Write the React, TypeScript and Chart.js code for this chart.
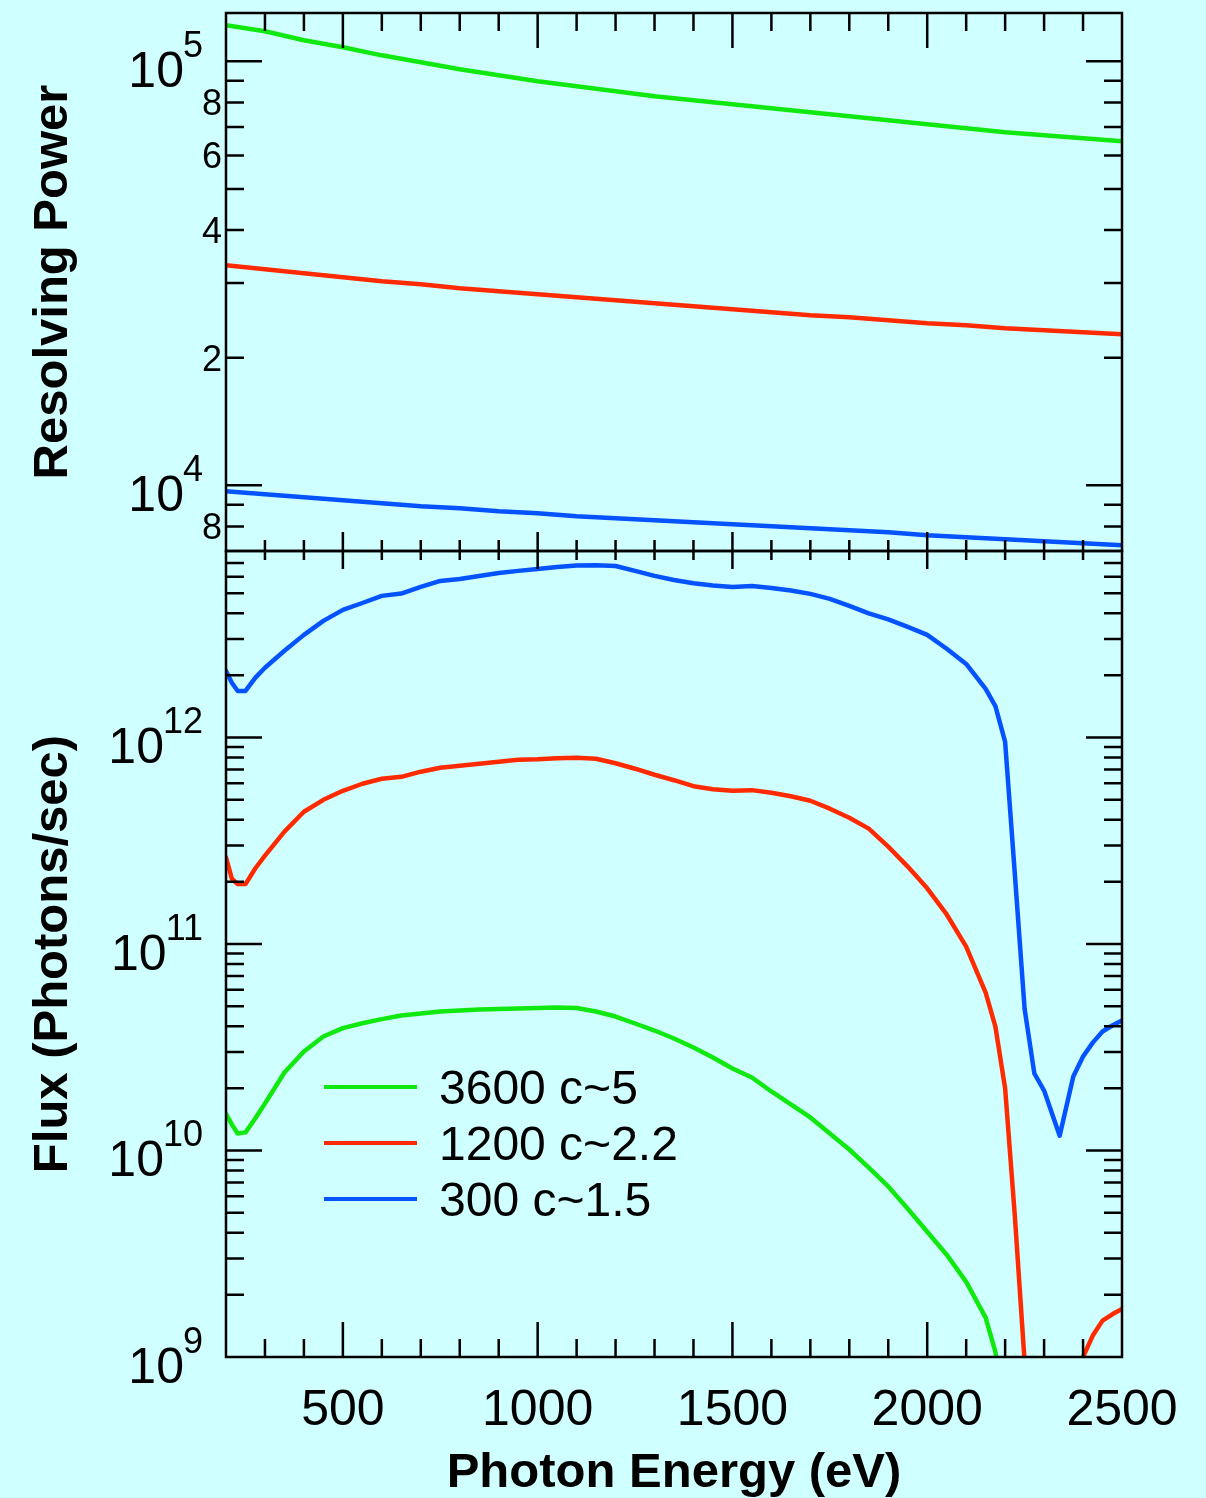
import React, { useEffect, useRef } from "react";
import { Chart, registerables } from "chart.js";

Chart.register(...registerables);

const PAGE_W = 1206;
const PAGE_H = 1498;
const FONT = '"Liberation Sans", Arial, Helvetica, sans-serif';
const BG = "#d0ffff";

// ---- Series metadata ----
const seriesLabels = ["3600 c~5", "1200 c~2.2", "300 c~1.5"];
const seriesColors = ["#10e810", "#ff2a00", "#0552ff"];

// ---- Resolving power vs photon energy ----
const resEnergy = [
  200, 300, 400, 500, 600, 700, 800, 900, 1000, 1100, 1200, 1300, 1400, 1500,
  1600, 1700, 1800, 1900, 2000, 2100, 2200, 2300, 2400, 2500,
];
const res3600 = [
  121600, 117700, 112100, 107900, 103300, 99460, 95750, 92680, 89700, 87300,
  84960, 82700, 80910, 79170, 77470, 75800, 74180, 72580, 71020, 69500, 68020,
  66920, 65840, 64770,
];
const res1200 = [
  33030, 32320, 31620, 30950, 30290, 29800, 29160, 28690, 28220, 27770, 27320,
  26880, 26440, 26010, 25590, 25180, 24910, 24500, 24110, 23850, 23460, 23210,
  22960, 22710,
];
const res300 = [
  9680, 9524, 9369, 9218, 9070, 8925, 8828, 8685, 8590, 8452, 8360, 8270, 8180,
  8091, 8004, 7918, 7832, 7748, 7623, 7541, 7458, 7378, 7299, 7220,
];

// ---- Flux vs photon energy ----
const fluxEnergy = [
  200, 215, 230, 250, 275, 300, 350, 400, 450, 500, 550, 600, 650, 700, 750,
  800, 850, 900, 950, 1000, 1050, 1100, 1150, 1200, 1250, 1300, 1350, 1400,
  1450, 1500, 1550, 1600, 1650, 1700, 1750, 1800, 1850, 1900, 1950, 2000, 2050,
  2100, 2150, 2175, 2200, 2225, 2250, 2275, 2300, 2340, 2375, 2400, 2425, 2450,
  2475, 2500,
];
const flux3600 = [
  1.507e10, 1.337e10, 1.21e10, 1.224e10, 1.429e10, 1.69e10, 2.387e10, 3.016e10,
  3.565e10, 3.915e10, 4.134e10, 4.326e10, 4.503e10, 4.604e10, 4.71e10,
  4.762e10, 4.815e10, 4.842e10, 4.869e10, 4.896e10, 4.924e10, 4.896e10,
  4.71e10, 4.454e10, 4.121e10, 3.811e10, 3.486e10, 3.153e10, 2.821e10,
  2.495e10, 2.257e10, 1.931e10, 1.671e10, 1.446e10, 1.21e10, 1.011e10, 8.27e9,
  6.7e9, 5.22e9, 4.04e9, 3.13e9, 2.31e9, 1.55e9, 1.06e9, 5e8,
  null, null, null, null, null, null, null, null, null, null, null,
];
const flux1200 = [
  2.63e11, 2.07e11, 1.95e11, 1.95e11, 2.32e11, 2.68e11, 3.5e11, 4.37e11,
  4.99e11, 5.52e11, 5.97e11, 6.31e11, 6.45e11, 6.83e11, 7.14e11, 7.3e11,
  7.46e11, 7.63e11, 7.8e11, 7.84e11, 7.93e11, 7.98e11, 7.89e11, 7.5e11,
  7.06e11, 6.6e11, 6.21e11, 5.81e11, 5.62e11, 5.52e11, 5.56e11, 5.4e11,
  5.19e11, 4.94e11, 4.52e11, 4.09e11, 3.62e11, 2.96e11, 2.37e11, 1.86e11,
  1.39e11, 9.71e10, 5.82e10, 3.98e10, 2.0e10, 4.8e9, 9.5e8,
  null, null, null, null, 1.0e9, 1.27e9, 1.5e9, 1.61e9, 1.71e9,
];
const flux300 = [
  2.1e12, 1.84e12, 1.68e12, 1.68e12, 1.945e12, 2.175e12, 2.63e12, 3.14e12,
  3.67e12, 4.15e12, 4.48e12, 4.85e12, 4.98e12, 5.36e12, 5.73e12, 5.86e12,
  6.06e12, 6.26e12, 6.41e12, 6.55e12, 6.7e12, 6.81e12, 6.82e12, 6.77e12,
  6.41e12, 6.06e12, 5.79e12, 5.58e12, 5.45e12, 5.36e12, 5.42e12, 5.3e12,
  5.15e12, 4.96e12, 4.69e12, 4.34e12, 3.99e12, 3.73e12, 3.43e12, 3.14e12,
  2.69e12, 2.27e12, 1.72e12, 1.42e12, 9.53e11, 2.17e11, 4.85e10, 2.36e10,
  1.95e10, 1.18e10, 2.28e10, 2.85e10, 3.33e10, 3.77e10, 4.03e10, 4.26e10,
];

// ---- Axis ranges and tick labels ----
const energyRange = [200, 2500];
const energyTickLabels = [500, 1000, 1500, 2000, 2500];
const resRange = [7000, 130000];
const resDecadeLabels = [1e4, 1e5];
const resMinorLabels = [8e3, 2e4, 4e4, 6e4, 8e4];
const fluxRange = [1e9, 8e12];
const fluxDecadeLabels = [1e9, 1e10, 1e11, 1e12];

const xAxisTitle = "Photon Energy (eV)";
const resAxisTitle = "Resolving Power";
const fluxAxisTitle = "Flux (Photons/sec)";

type TickSpan = [number, number]; // extent above / below the edge line
interface PanelStyle {
  topMinor: TickSpan;
  topMajor: TickSpan;
  bottomMinor: TickSpan;
  bottomMajor: TickSpan;
  decadeLabels: number[];
  minorLabels: number[];
  title: string;
  xLabels: boolean;
  legend: boolean;
}

const SUP_RIGHT = 203;

function drawPower(ctx: CanvasRenderingContext2D, value: number, py: number) {
  const exp = String(Math.round(Math.log10(value)));
  ctx.textAlign = "right";
  ctx.textBaseline = "alphabetic";
  ctx.font = `36px ${FONT}`;
  const w = ctx.measureText(exp).width;
  ctx.fillText(exp, SUP_RIGHT, py - 4);
  ctx.font = `50px ${FONT}`;
  ctx.fillText("10", SUP_RIGHT - w + 1, py + 26);
}

function panelPlugin(style: PanelStyle) {
  return {
    id: "panelFrame",
    afterDatasetsDraw(chart: any) {
      const { ctx, chartArea: a } = chart;
      const xs = chart.scales.x;
      const ys = chart.scales.y;
      ctx.save();
      ctx.strokeStyle = "#000";
      ctx.fillStyle = "#000";
      ctx.lineWidth = 2.5;
      ctx.lineCap = "butt";

      // energy ticks on top and bottom edges, every 100 eV
      ctx.beginPath();
      for (let e = energyRange[0] + 100; e < energyRange[1]; e += 100) {
        const px = xs.getPixelForValue(e);
        const major = e % 500 === 0;
        const t = major ? style.topMajor : style.topMinor;
        ctx.moveTo(px, a.top - t[0]);
        ctx.lineTo(px, a.top + t[1]);
        const b = major ? style.bottomMajor : style.bottomMinor;
        ctx.moveTo(px, a.bottom - b[0]);
        ctx.lineTo(px, a.bottom + b[1]);
      }

      // logarithmic ticks on left and right edges
      const lo = ys.min;
      const hi = ys.max;
      const d0 = Math.floor(Math.log10(lo));
      const d1 = Math.ceil(Math.log10(hi));
      for (let d = d0; d <= d1; d++) {
        for (let m = 1; m <= 9; m++) {
          const v = m * Math.pow(10, d);
          if (v <= lo * 1.0001 || v >= hi * 0.9999) continue;
          const py = ys.getPixelForValue(v);
          const len = m === 1 ? 36 : 18;
          ctx.moveTo(a.left, py);
          ctx.lineTo(a.left + len, py);
          ctx.moveTo(a.right, py);
          ctx.lineTo(a.right - len, py);
        }
      }
      ctx.stroke();
      ctx.strokeRect(a.left, a.top, a.right - a.left, a.bottom - a.top);

      // y tick labels
      for (const v of style.decadeLabels) drawPower(ctx, v, ys.getPixelForValue(v));
      ctx.font = `36px ${FONT}`;
      ctx.textAlign = "right";
      ctx.textBaseline = "alphabetic";
      for (const v of style.minorLabels) {
        const mant = Math.round(v / Math.pow(10, Math.floor(Math.log10(v))));
        ctx.fillText(String(mant), 222, ys.getPixelForValue(v) + 13);
      }

      // y axis title
      ctx.save();
      ctx.translate(67, (a.top + a.bottom) / 2);
      ctx.rotate(-Math.PI / 2);
      ctx.font = `bold 49px ${FONT}`;
      ctx.textAlign = "center";
      ctx.fillText(style.title, 0, 0);
      ctx.restore();

      if (style.xLabels) {
        ctx.font = `50px ${FONT}`;
        ctx.textAlign = "center";
        for (const e of energyTickLabels) {
          ctx.fillText(String(e), xs.getPixelForValue(e), 1425);
        }
        ctx.font = `bold 49px ${FONT}`;
        ctx.fillText(xAxisTitle, (a.left + a.right) / 2, 1487);
      }

      if (style.legend) {
        const rows = [1087, 1143, 1199];
        chart.data.datasets.forEach((ds: any, i: number) => {
          const y = rows[i];
          ctx.strokeStyle = ds.borderColor;
          ctx.lineWidth = 4;
          ctx.beginPath();
          ctx.moveTo(324, y);
          ctx.lineTo(417, y);
          ctx.stroke();
          ctx.font = `48px ${FONT}`;
          ctx.textAlign = "left";
          ctx.fillStyle = "#000";
          ctx.fillText(ds.label, 439, y + 17);
        });
      }
      ctx.restore();
    },
  };
}

function makeDatasets(xs: number[], ys: (number | null)[][]) {
  return ys.map((vals, i) => ({
    label: seriesLabels[i],
    data: xs.map((x, j) => ({ x, y: vals[j] })),
    borderColor: seriesColors[i],
    backgroundColor: seriesColors[i],
    borderWidth: 4.5,
    pointRadius: 0,
    tension: 0,
    spanGaps: false,
    borderJoinStyle: "round" as const,
    borderCapStyle: "round" as const,
    fill: false,
  }));
}

function baseOptions(yRange: number[], padding: any): any {
  return {
    responsive: false,
    maintainAspectRatio: false,
    animation: false,
    devicePixelRatio: 1,
    events: [],
    layout: { padding },
    plugins: {
      legend: { display: false },
      tooltip: { enabled: false },
      title: { display: false },
    },
    scales: {
      x: { type: "linear", min: energyRange[0], max: energyRange[1], display: false },
      y: { type: "logarithmic", min: yRange[0], max: yRange[1], display: false },
    },
  };
}

export default function App() {
  const topRef = useRef<HTMLCanvasElement>(null);
  const botRef = useRef<HTMLCanvasElement>(null);

  useEffect(() => {
    const topChart = new Chart(topRef.current as HTMLCanvasElement, {
      type: "line",
      data: { datasets: makeDatasets(resEnergy, [res3600, res1200, res300]) as any },
      options: baseOptions(resRange, { left: 226, right: 84, top: 13, bottom: 947 }),
      plugins: [
        panelPlugin({
          topMinor: [0, 18],
          topMajor: [0, 35],
          bottomMinor: [11, 0],
          bottomMajor: [19, 0],
          decadeLabels: resDecadeLabels,
          minorLabels: resMinorLabels,
          title: resAxisTitle,
          xLabels: false,
          legend: false,
        }),
      ],
    });
    const botChart = new Chart(botRef.current as HTMLCanvasElement, {
      type: "line",
      data: { datasets: makeDatasets(fluxEnergy, [flux3600, flux1200, flux300]) as any },
      options: baseOptions(fluxRange, { left: 226, right: 84, top: 551, bottom: 141 }),
      plugins: [
        panelPlugin({
          topMinor: [0, 9],
          topMajor: [0, 18],
          bottomMinor: [18, 0],
          bottomMajor: [35, 0],
          decadeLabels: fluxDecadeLabels,
          minorLabels: [],
          title: fluxAxisTitle,
          xLabels: true,
          legend: true,
        }),
      ],
    });
    return () => {
      topChart.destroy();
      botChart.destroy();
    };
  }, []);

  const canvasStyle: React.CSSProperties = { position: "absolute", left: 0, top: 0 };
  return (
    <div
      style={{
        position: "absolute",
        left: 0,
        top: 0,
        width: PAGE_W,
        height: PAGE_H,
        background: BG,
        overflow: "hidden",
      }}
    >
      <canvas ref={topRef} width={PAGE_W} height={PAGE_H} style={canvasStyle} />
      <canvas ref={botRef} width={PAGE_W} height={PAGE_H} style={canvasStyle} />
    </div>
  );
}
